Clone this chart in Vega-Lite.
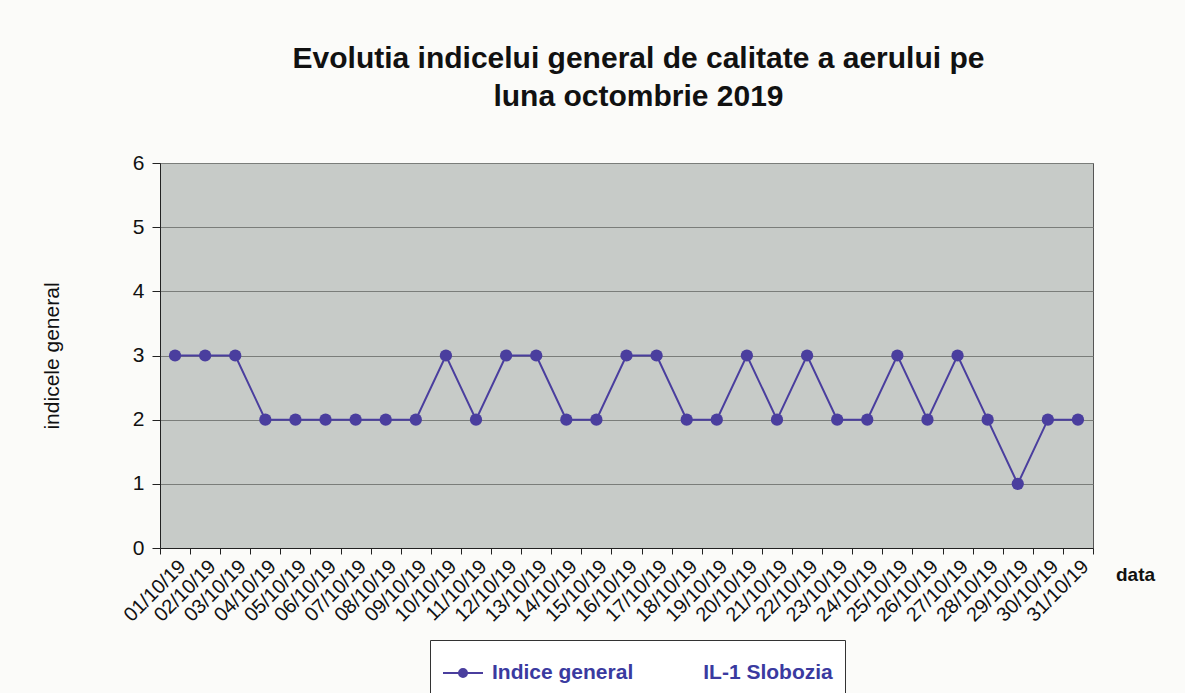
{
  "$schema": "https://vega.github.io/schema/vega-lite/v6.json",
  "width": 933,
  "height": 385,
  "autosize": "none",
  "padding": {"left": 160, "top": 163, "right": 92, "bottom": 145},
  "background": "#fbfbf9",
  "title": {
    "text": ["Evolutia indicelui general de calitate a aerului pe", "luna octombrie 2019"],
    "font": "Liberation Sans",
    "fontSize": 30,
    "fontWeight": "bold",
    "color": "#111111",
    "lineHeight": 38,
    "anchor": "middle",
    "offset": 40,
    "dx": 12
  },
  "data": {
    "values": [
      {"data": "01/10/19", "indice": 3, "serie": "Indice general"},
      {"data": "02/10/19", "indice": 3, "serie": "Indice general"},
      {"data": "03/10/19", "indice": 3, "serie": "Indice general"},
      {"data": "04/10/19", "indice": 2, "serie": "Indice general"},
      {"data": "05/10/19", "indice": 2, "serie": "Indice general"},
      {"data": "06/10/19", "indice": 2, "serie": "Indice general"},
      {"data": "07/10/19", "indice": 2, "serie": "Indice general"},
      {"data": "08/10/19", "indice": 2, "serie": "Indice general"},
      {"data": "09/10/19", "indice": 2, "serie": "Indice general"},
      {"data": "10/10/19", "indice": 3, "serie": "Indice general"},
      {"data": "11/10/19", "indice": 2, "serie": "Indice general"},
      {"data": "12/10/19", "indice": 3, "serie": "Indice general"},
      {"data": "13/10/19", "indice": 3, "serie": "Indice general"},
      {"data": "14/10/19", "indice": 2, "serie": "Indice general"},
      {"data": "15/10/19", "indice": 2, "serie": "Indice general"},
      {"data": "16/10/19", "indice": 3, "serie": "Indice general"},
      {"data": "17/10/19", "indice": 3, "serie": "Indice general"},
      {"data": "18/10/19", "indice": 2, "serie": "Indice general"},
      {"data": "19/10/19", "indice": 2, "serie": "Indice general"},
      {"data": "20/10/19", "indice": 3, "serie": "Indice general"},
      {"data": "21/10/19", "indice": 2, "serie": "Indice general"},
      {"data": "22/10/19", "indice": 3, "serie": "Indice general"},
      {"data": "23/10/19", "indice": 2, "serie": "Indice general"},
      {"data": "24/10/19", "indice": 2, "serie": "Indice general"},
      {"data": "25/10/19", "indice": 3, "serie": "Indice general"},
      {"data": "26/10/19", "indice": 2, "serie": "Indice general"},
      {"data": "27/10/19", "indice": 3, "serie": "Indice general"},
      {"data": "28/10/19", "indice": 2, "serie": "Indice general"},
      {"data": "29/10/19", "indice": 1, "serie": "Indice general"},
      {"data": "30/10/19", "indice": 2, "serie": "Indice general"},
      {"data": "31/10/19", "indice": 2, "serie": "Indice general"}
    ]
  },
  "encoding": {
    "x": {
      "field": "data",
      "type": "ordinal",
      "sort": null,
      "scale": {"type": "band", "paddingInner": 0, "paddingOuter": 0},
      "axis": {
        "title": "data",
        "titleFont": "Liberation Sans",
        "titleFontSize": 19,
        "titleFontWeight": "bold",
        "titleColor": "#111111",
        "titleX": 975,
        "titleY": 26,
        "titleAlign": "center",
        "titleBaseline": "middle",
        "labelAngle": -45,
        "labelFont": "Liberation Sans",
        "labelFontSize": 20,
        "labelColor": "#111111",
        "labelPadding": 2,
        "labelOverlap": false,
        "tickBand": "extent",
        "tickSize": 6,
        "tickColor": "#222222",
        "domainColor": "#222222",
        "grid": false
      }
    },
    "y": {
      "field": "indice",
      "type": "quantitative",
      "scale": {"domain": [0, 6], "nice": false},
      "axis": {
        "title": "indicele general",
        "titleFont": "Liberation Sans",
        "titleFontSize": 21,
        "titleFontWeight": "normal",
        "titleColor": "#111111",
        "titlePadding": 70,
        "values": [0, 1, 2, 3, 4, 5, 6],
        "labelFont": "Liberation Sans",
        "labelFontSize": 21,
        "labelColor": "#111111",
        "labelPadding": 8,
        "tickSize": 8,
        "tickColor": "#222222",
        "domainColor": "#222222",
        "grid": true,
        "gridColor": "#7a7d7a",
        "gridWidth": 1
      }
    },
    "color": {
      "field": "serie",
      "type": "nominal",
      "scale": {"range": ["#4a3e9e"]},
      "legend": {
        "title": null,
        "orient": "none",
        "legendX": 270,
        "legendY": 477,
        "padding": 12,
        "strokeColor": "#333333",
        "fillColor": "#ffffff",
        "symbolType": "M-1,0L1,0M-0.2,0A0.2,0.2 0 1,1 0.2,0A0.2,0.2 0 1,1 -0.2,0",
        "symbolSize": 1600,
        "symbolStrokeWidth": 2,
        "symbolFillColor": "#2e2a7a",
        "symbolStrokeColor": "#4a3e9e",
        "labelExpr": "'Indice general\u00a0\u00a0\u00a0\u00a0\u00a0\u00a0\u00a0\u00a0\u00a0\u00a0\u00a0\u00a0IL-1 Slobozia'",
        "labelFont": "Liberation Sans",
        "labelFontSize": 21,
        "labelFontWeight": "bold",
        "labelColor": "#3a3aa0",
        "labelLimit": 600,
        "labelOffset": 8
      }
    }
  },
  "layer": [
    {"mark": {"type": "line", "strokeWidth": 2}},
    {"mark": {"type": "point", "filled": true, "size": 150, "opacity": 1, "color": "#2e2a7a"}}
  ],
  "config": {
    "view": {"fill": "#c7cbc8", "stroke": "#555555", "strokeWidth": 1}
  }
}
